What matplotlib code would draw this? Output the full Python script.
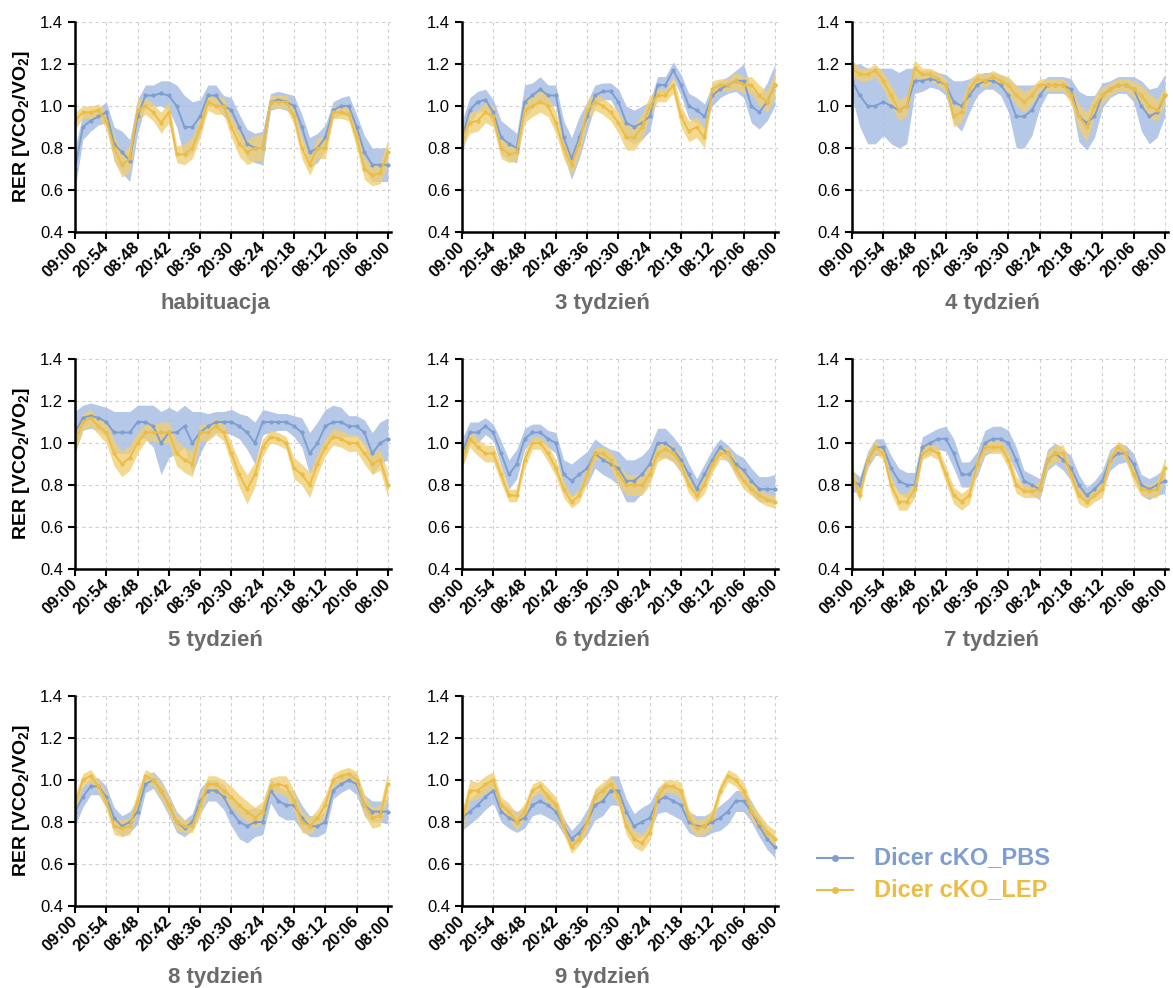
import numpy as np
import matplotlib.pyplot as plt
from matplotlib.lines import Line2D

plt.rcParams['font.family'] = ['Liberation Sans', 'DejaVu Sans']
plt.rcParams['mathtext.fontset'] = 'custom'
plt.rcParams['mathtext.rm'] = 'Liberation Sans:bold'
plt.rcParams['mathtext.bf'] = 'Liberation Sans:bold'

# x axis: tick labels every ~11h54m, values read at 4 points per tick interval
tick_labels = ['09:00', '20:54', '08:48', '20:42', '08:36', '20:30',
               '08:24', '20:18', '08:12', '20:06', '08:00']
titles = ['habituacja', '3 tydzień', '4 tydzień', '5 tydzień',
          '6 tydzień', '7 tydzień', '8 tydzień', '9 tydzień']
x = np.arange(41) / 4

# habituacja
hab_pbs = [0.70, 0.90, 0.93, 0.95, 0.97, 0.82, 0.78, 0.74, 0.95, 1.05, 1.05, 1.06, 1.05, 1.00, 0.90, 0.90, 0.95, 1.05, 1.05, 1.00, 0.98, 0.90, 0.82, 0.80, 0.80, 1.02, 1.03, 1.02, 1.00, 0.90, 0.78, 0.80, 0.85, 0.98, 1.00, 1.00, 0.90, 0.78, 0.72, 0.72, 0.72]
hab_pbs_err = [0.10, 0.06, 0.05, 0.04, 0.05, 0.08, 0.10, 0.10, 0.08, 0.05, 0.05, 0.06, 0.07, 0.10, 0.15, 0.12, 0.08, 0.05, 0.05, 0.05, 0.06, 0.06, 0.07, 0.07, 0.08, 0.04, 0.04, 0.04, 0.05, 0.06, 0.07, 0.07, 0.06, 0.04, 0.04, 0.05, 0.06, 0.08, 0.08, 0.08, 0.08]
hab_lep = [0.93, 0.97, 0.97, 0.98, 0.93, 0.80, 0.72, 0.75, 0.98, 1.00, 0.97, 0.92, 0.97, 0.77, 0.77, 0.80, 0.90, 1.02, 1.00, 1.00, 0.90, 0.82, 0.78, 0.80, 0.80, 1.02, 1.02, 1.02, 0.95, 0.80, 0.72, 0.80, 0.80, 0.97, 0.97, 0.96, 0.85, 0.70, 0.67, 0.68, 0.78]
hab_lep_err = [0.04, 0.03, 0.03, 0.03, 0.04, 0.06, 0.06, 0.06, 0.05, 0.04, 0.04, 0.05, 0.05, 0.04, 0.05, 0.05, 0.05, 0.04, 0.04, 0.04, 0.05, 0.06, 0.06, 0.06, 0.06, 0.03, 0.03, 0.03, 0.04, 0.05, 0.05, 0.05, 0.05, 0.03, 0.03, 0.03, 0.05, 0.05, 0.05, 0.05, 0.06]

# 3 tydzien
w3_pbs = [0.85, 0.98, 1.02, 1.03, 0.97, 0.85, 0.82, 0.80, 1.02, 1.05, 1.08, 1.05, 1.05, 0.85, 0.75, 0.85, 0.95, 1.05, 1.07, 1.07, 1.02, 0.92, 0.90, 0.92, 0.95, 1.10, 1.10, 1.17, 1.10, 1.00, 0.98, 0.95, 1.05, 1.08, 1.10, 1.12, 1.12, 1.00, 0.97, 1.02, 1.10]
w3_pbs_err = [0.08, 0.06, 0.05, 0.05, 0.06, 0.08, 0.08, 0.07, 0.08, 0.06, 0.06, 0.05, 0.05, 0.08, 0.10, 0.10, 0.07, 0.05, 0.04, 0.04, 0.06, 0.08, 0.08, 0.08, 0.07, 0.04, 0.04, 0.04, 0.05, 0.06, 0.06, 0.06, 0.05, 0.04, 0.04, 0.05, 0.08, 0.08, 0.08, 0.09, 0.10]
w3_lep = [0.85, 0.92, 0.93, 0.97, 0.95, 0.80, 0.77, 0.78, 0.98, 1.00, 1.02, 1.00, 0.92, 0.80, 0.72, 0.82, 0.98, 1.02, 1.00, 0.97, 0.92, 0.85, 0.85, 0.90, 1.00, 1.05, 1.05, 1.10, 0.95, 0.88, 0.90, 0.85, 1.08, 1.10, 1.10, 1.12, 1.10, 1.10, 1.05, 1.02, 1.10]
w3_lep_err = [0.05, 0.05, 0.05, 0.05, 0.05, 0.05, 0.04, 0.04, 0.06, 0.05, 0.05, 0.05, 0.05, 0.05, 0.05, 0.05, 0.05, 0.04, 0.04, 0.04, 0.05, 0.06, 0.06, 0.06, 0.05, 0.03, 0.03, 0.04, 0.05, 0.05, 0.05, 0.05, 0.04, 0.03, 0.03, 0.04, 0.04, 0.04, 0.05, 0.05, 0.06]

# 4 tydzien
w4_pbs = [1.12, 1.05, 1.00, 1.00, 1.02, 1.00, 0.98, 1.00, 1.12, 1.12, 1.13, 1.12, 1.10, 1.02, 1.00, 1.05, 1.10, 1.12, 1.12, 1.10, 1.05, 0.95, 0.95, 0.98, 1.05, 1.10, 1.10, 1.10, 1.08, 0.95, 0.92, 0.95, 1.05, 1.08, 1.10, 1.10, 1.08, 1.00, 0.95, 0.97, 1.05]
w4_pbs_err = [0.08, 0.15, 0.18, 0.18, 0.16, 0.18, 0.18, 0.18, 0.06, 0.05, 0.04, 0.04, 0.05, 0.10, 0.12, 0.08, 0.05, 0.04, 0.04, 0.05, 0.08, 0.15, 0.15, 0.12, 0.06, 0.04, 0.04, 0.04, 0.05, 0.12, 0.13, 0.10, 0.06, 0.04, 0.04, 0.04, 0.06, 0.12, 0.13, 0.12, 0.10]
w4_lep = [1.18, 1.15, 1.15, 1.17, 1.12, 1.05, 0.98, 1.00, 1.18, 1.15, 1.15, 1.13, 1.10, 0.95, 0.97, 1.08, 1.13, 1.12, 1.14, 1.12, 1.10, 1.05, 1.02, 1.05, 1.10, 1.10, 1.10, 1.10, 1.05, 0.95, 0.90, 1.00, 1.05, 1.08, 1.10, 1.10, 1.08, 1.05, 1.00, 0.98, 1.05]
w4_lep_err = [0.04, 0.03, 0.03, 0.03, 0.04, 0.05, 0.05, 0.05, 0.04, 0.03, 0.03, 0.03, 0.03, 0.05, 0.05, 0.04, 0.03, 0.03, 0.03, 0.03, 0.04, 0.05, 0.05, 0.04, 0.03, 0.03, 0.03, 0.03, 0.04, 0.06, 0.07, 0.05, 0.04, 0.03, 0.03, 0.03, 0.04, 0.05, 0.06, 0.05, 0.04]

# 5 tydzien
w5_pbs = [1.05, 1.12, 1.13, 1.12, 1.10, 1.05, 1.05, 1.05, 1.10, 1.10, 1.08, 1.00, 1.05, 1.05, 1.08, 1.00, 1.05, 1.08, 1.10, 1.10, 1.10, 1.08, 1.05, 1.00, 1.10, 1.10, 1.10, 1.10, 1.08, 1.05, 0.95, 1.00, 1.08, 1.10, 1.10, 1.08, 1.08, 1.05, 0.95, 1.00, 1.02]
w5_pbs_err = [0.10, 0.06, 0.06, 0.06, 0.07, 0.10, 0.10, 0.10, 0.08, 0.08, 0.10, 0.15, 0.12, 0.10, 0.10, 0.15, 0.10, 0.06, 0.05, 0.05, 0.06, 0.06, 0.08, 0.10, 0.06, 0.05, 0.04, 0.04, 0.05, 0.07, 0.10, 0.10, 0.08, 0.08, 0.07, 0.05, 0.05, 0.06, 0.10, 0.10, 0.10]
w5_lep = [1.00, 1.10, 1.12, 1.08, 1.05, 0.95, 0.90, 0.93, 1.00, 1.05, 1.05, 1.05, 1.05, 0.95, 0.92, 0.90, 1.05, 1.05, 1.08, 1.05, 0.95, 0.85, 0.78, 0.85, 0.98, 1.03, 1.02, 1.00, 0.88, 0.85, 0.80, 0.90, 0.98, 1.03, 1.02, 1.00, 1.00, 0.95, 0.90, 0.92, 0.80]
w5_lep_err = [0.05, 0.04, 0.04, 0.04, 0.05, 0.06, 0.06, 0.06, 0.05, 0.04, 0.04, 0.05, 0.05, 0.06, 0.06, 0.06, 0.04, 0.04, 0.04, 0.04, 0.05, 0.06, 0.07, 0.06, 0.04, 0.03, 0.03, 0.03, 0.05, 0.05, 0.06, 0.05, 0.04, 0.04, 0.04, 0.04, 0.04, 0.05, 0.05, 0.05, 0.06]

# 6 tydzien
w6_pbs = [0.95, 1.05, 1.05, 1.08, 1.05, 0.95, 0.85, 0.90, 1.02, 1.05, 1.05, 1.02, 1.00, 0.85, 0.82, 0.85, 0.88, 0.95, 0.92, 0.90, 0.88, 0.82, 0.82, 0.85, 0.90, 1.00, 1.00, 0.97, 0.92, 0.85, 0.78, 0.85, 0.92, 0.98, 0.95, 0.90, 0.87, 0.82, 0.78, 0.78, 0.78]
w6_pbs_err = [0.07, 0.05, 0.05, 0.04, 0.04, 0.06, 0.07, 0.07, 0.05, 0.04, 0.04, 0.04, 0.05, 0.07, 0.08, 0.08, 0.08, 0.07, 0.07, 0.07, 0.08, 0.10, 0.10, 0.09, 0.08, 0.07, 0.07, 0.06, 0.06, 0.05, 0.05, 0.05, 0.05, 0.04, 0.04, 0.05, 0.06, 0.06, 0.06, 0.06, 0.07]
w6_lep = [0.92, 1.02, 0.98, 0.95, 0.95, 0.85, 0.75, 0.75, 0.92, 1.00, 1.00, 0.95, 0.88, 0.78, 0.72, 0.75, 0.85, 0.95, 0.95, 0.92, 0.85, 0.80, 0.80, 0.80, 0.85, 0.95, 0.97, 0.95, 0.90, 0.80, 0.75, 0.80, 0.90, 0.95, 0.95, 0.88, 0.82, 0.78, 0.75, 0.73, 0.72]
w6_lep_err = [0.04, 0.04, 0.04, 0.04, 0.04, 0.04, 0.03, 0.03, 0.04, 0.03, 0.03, 0.04, 0.04, 0.04, 0.03, 0.03, 0.04, 0.03, 0.03, 0.04, 0.05, 0.05, 0.05, 0.05, 0.05, 0.04, 0.04, 0.04, 0.04, 0.04, 0.03, 0.04, 0.04, 0.03, 0.03, 0.04, 0.04, 0.03, 0.03, 0.03, 0.03]

# 7 tydzien
w7_pbs = [0.82, 0.80, 0.92, 0.98, 0.98, 0.88, 0.82, 0.80, 0.80, 0.98, 1.00, 1.02, 1.02, 0.95, 0.85, 0.85, 0.90, 1.00, 1.02, 1.02, 1.00, 0.92, 0.82, 0.80, 0.78, 0.92, 0.95, 0.92, 0.88, 0.80, 0.75, 0.78, 0.82, 0.92, 0.95, 0.95, 0.90, 0.80, 0.78, 0.80, 0.82]
w7_pbs_err = [0.05, 0.04, 0.04, 0.04, 0.04, 0.06, 0.06, 0.06, 0.06, 0.05, 0.05, 0.05, 0.06, 0.07, 0.06, 0.06, 0.06, 0.06, 0.06, 0.06, 0.06, 0.06, 0.05, 0.05, 0.05, 0.05, 0.05, 0.05, 0.06, 0.05, 0.04, 0.04, 0.05, 0.05, 0.05, 0.04, 0.05, 0.05, 0.05, 0.05, 0.06]
w7_lep = [0.85, 0.75, 0.92, 0.98, 0.95, 0.80, 0.72, 0.72, 0.78, 0.95, 0.97, 0.95, 0.85, 0.75, 0.72, 0.75, 0.90, 0.98, 0.98, 0.98, 0.92, 0.80, 0.77, 0.77, 0.78, 0.92, 0.95, 0.95, 0.85, 0.75, 0.72, 0.75, 0.78, 0.92, 0.98, 0.95, 0.85, 0.78, 0.77, 0.78, 0.88]
w7_lep_err = [0.04, 0.03, 0.03, 0.03, 0.03, 0.04, 0.04, 0.04, 0.04, 0.03, 0.03, 0.03, 0.04, 0.04, 0.04, 0.04, 0.04, 0.03, 0.03, 0.03, 0.04, 0.04, 0.03, 0.03, 0.04, 0.04, 0.04, 0.04, 0.04, 0.04, 0.03, 0.03, 0.04, 0.03, 0.03, 0.03, 0.04, 0.03, 0.03, 0.04, 0.05]

# 8 tydzien
w8_pbs = [0.85, 0.92, 0.97, 0.97, 0.92, 0.82, 0.78, 0.80, 0.85, 0.98, 1.00, 0.95, 0.88, 0.80, 0.77, 0.80, 0.90, 0.95, 0.95, 0.92, 0.85, 0.80, 0.78, 0.80, 0.80, 0.95, 0.90, 0.88, 0.88, 0.82, 0.78, 0.78, 0.80, 0.95, 0.98, 1.00, 0.98, 0.88, 0.85, 0.85, 0.85]
w8_pbs_err = [0.07, 0.05, 0.04, 0.04, 0.05, 0.05, 0.05, 0.05, 0.06, 0.04, 0.04, 0.05, 0.05, 0.05, 0.04, 0.04, 0.06, 0.05, 0.05, 0.06, 0.07, 0.08, 0.08, 0.07, 0.06, 0.06, 0.07, 0.07, 0.07, 0.06, 0.05, 0.05, 0.05, 0.04, 0.04, 0.04, 0.05, 0.05, 0.05, 0.05, 0.06]
w8_lep = [0.88, 1.00, 1.02, 0.97, 0.90, 0.78, 0.77, 0.78, 0.90, 1.02, 1.00, 0.95, 0.88, 0.80, 0.78, 0.78, 0.88, 0.98, 0.98, 0.95, 0.92, 0.88, 0.85, 0.82, 0.85, 0.97, 0.98, 0.97, 0.90, 0.80, 0.78, 0.82, 0.88, 1.00, 1.02, 1.03, 1.00, 0.88, 0.82, 0.83, 0.98]
w8_lep_err = [0.05, 0.03, 0.03, 0.03, 0.04, 0.04, 0.04, 0.04, 0.05, 0.03, 0.03, 0.04, 0.04, 0.04, 0.03, 0.03, 0.05, 0.04, 0.04, 0.05, 0.05, 0.05, 0.05, 0.05, 0.05, 0.04, 0.04, 0.05, 0.05, 0.05, 0.04, 0.04, 0.05, 0.03, 0.03, 0.03, 0.04, 0.05, 0.05, 0.05, 0.06]

# 9 tydzien
w9_pbs = [0.82, 0.85, 0.88, 0.92, 0.95, 0.85, 0.82, 0.80, 0.82, 0.88, 0.90, 0.88, 0.85, 0.78, 0.72, 0.75, 0.80, 0.88, 0.90, 0.95, 0.95, 0.85, 0.78, 0.80, 0.82, 0.90, 0.92, 0.90, 0.88, 0.80, 0.78, 0.78, 0.80, 0.82, 0.85, 0.90, 0.90, 0.85, 0.78, 0.72, 0.68]
w9_pbs_err = [0.06, 0.06, 0.06, 0.06, 0.06, 0.05, 0.05, 0.05, 0.05, 0.05, 0.06, 0.06, 0.05, 0.04, 0.04, 0.05, 0.06, 0.07, 0.07, 0.07, 0.07, 0.06, 0.06, 0.07, 0.07, 0.06, 0.07, 0.07, 0.07, 0.05, 0.05, 0.05, 0.05, 0.06, 0.06, 0.05, 0.05, 0.05, 0.05, 0.05, 0.05]
w9_lep = [0.80, 0.95, 0.95, 0.98, 1.00, 0.88, 0.85, 0.80, 0.85, 0.95, 0.97, 0.92, 0.88, 0.78, 0.68, 0.72, 0.80, 0.92, 0.95, 0.98, 0.92, 0.78, 0.72, 0.70, 0.75, 0.92, 0.97, 0.97, 0.95, 0.82, 0.77, 0.78, 0.82, 0.95, 1.02, 1.00, 0.95, 0.85, 0.80, 0.75, 0.72]
w9_lep_err = [0.05, 0.05, 0.04, 0.04, 0.04, 0.04, 0.04, 0.04, 0.04, 0.03, 0.03, 0.04, 0.04, 0.04, 0.03, 0.03, 0.04, 0.04, 0.04, 0.04, 0.04, 0.04, 0.04, 0.04, 0.04, 0.04, 0.03, 0.03, 0.04, 0.04, 0.04, 0.04, 0.04, 0.03, 0.03, 0.03, 0.04, 0.04, 0.04, 0.04, 0.04]

panels = [
    (hab_pbs, hab_pbs_err, hab_lep, hab_lep_err),
    (w3_pbs, w3_pbs_err, w3_lep, w3_lep_err),
    (w4_pbs, w4_pbs_err, w4_lep, w4_lep_err),
    (w5_pbs, w5_pbs_err, w5_lep, w5_lep_err),
    (w6_pbs, w6_pbs_err, w6_lep, w6_lep_err),
    (w7_pbs, w7_pbs_err, w7_lep, w7_lep_err),
    (w8_pbs, w8_pbs_err, w8_lep, w8_lep_err),
    (w9_pbs, w9_pbs_err, w9_lep, w9_lep_err),
]

blue, blue_band = '#7f9ed0', '#a3bbe2'
yellow, yellow_band = '#ebbd45', '#f1cf74'

W, H = 1173, 988
fig = plt.figure(figsize=(W / 100, H / 100), dpi=100)

col_left = [75, 462, 852]
row_top = [22, 359, 696]
ax_w, ax_h = 316, 210

for i, (pbs, pbs_err, lep, lep_err) in enumerate(panels):
    r, c = divmod(i, 3)
    ax = fig.add_axes([col_left[c] / W, 1 - (row_top[r] + ax_h) / H, ax_w / W, ax_h / H])

    pbs = np.array(pbs); pbs_err = np.array(pbs_err)
    lep = np.array(lep); lep_err = np.array(lep_err)

    ax.fill_between(x, pbs - pbs_err, pbs + pbs_err, color=blue_band, alpha=0.8, lw=0)
    ax.plot(x, pbs, color=blue, lw=1.4, marker='o', ms=2)
    ax.fill_between(x, lep - lep_err, lep + lep_err, color=yellow_band, alpha=0.8, lw=0)
    ax.plot(x, lep, color=yellow, lw=1.4, marker='o', ms=2)

    ax.set_xlim(0, 10.1)
    ax.set_ylim(0.4, 1.4)
    ax.set_yticks([0.4, 0.6, 0.8, 1.0, 1.2, 1.4])
    ax.set_yticklabels(['0.4', '0.6', '0.8', '1.0', '1.2', '1.4'], fontsize=12)
    ax.set_xticks(np.arange(11))
    ax.set_xticklabels(tick_labels, rotation=45, ha='right', va='center',
                       rotation_mode='anchor', fontsize=12, fontweight='bold')
    ax.grid(True, color='#cfcfcf', linestyle=(0, (3, 3)), lw=0.8)
    ax.set_axisbelow(True)
    for s in ['top', 'right']:
        ax.spines[s].set_visible(False)
    for s in ['left', 'bottom']:
        ax.spines[s].set_linewidth(1.8)
    ax.tick_params(length=5, width=1.5, color='black')
    ax.tick_params(axis='x', pad=4)

    if c == 0:
        ax.set_ylabel('RER [VCO$_2$/VO$_2$]', fontsize=14, fontweight='bold', labelpad=6)

    ax.text(0.443, -0.365, titles[i], transform=ax.transAxes, ha='center', va='baseline',
            fontsize=16, fontweight='bold', color='#6b6b6b')

# legend drawn in the empty ninth cell
for y_px, col, lab in [(858, blue, 'Dicer cKO_PBS'), (890, yellow, 'Dicer cKO_LEP')]:
    yf = 1 - y_px / H
    fig.add_artist(Line2D([817 / W, 835 / W, 853 / W], [yf, yf, yf], color=col, lw=1.5,
                          marker='o', ms=4, markevery=[1], transform=fig.transFigure))
    fig.text(874 / W, yf, lab, color=col, fontsize=17, fontweight='bold', va='center')

fig.savefig('out.png', dpi=100)
